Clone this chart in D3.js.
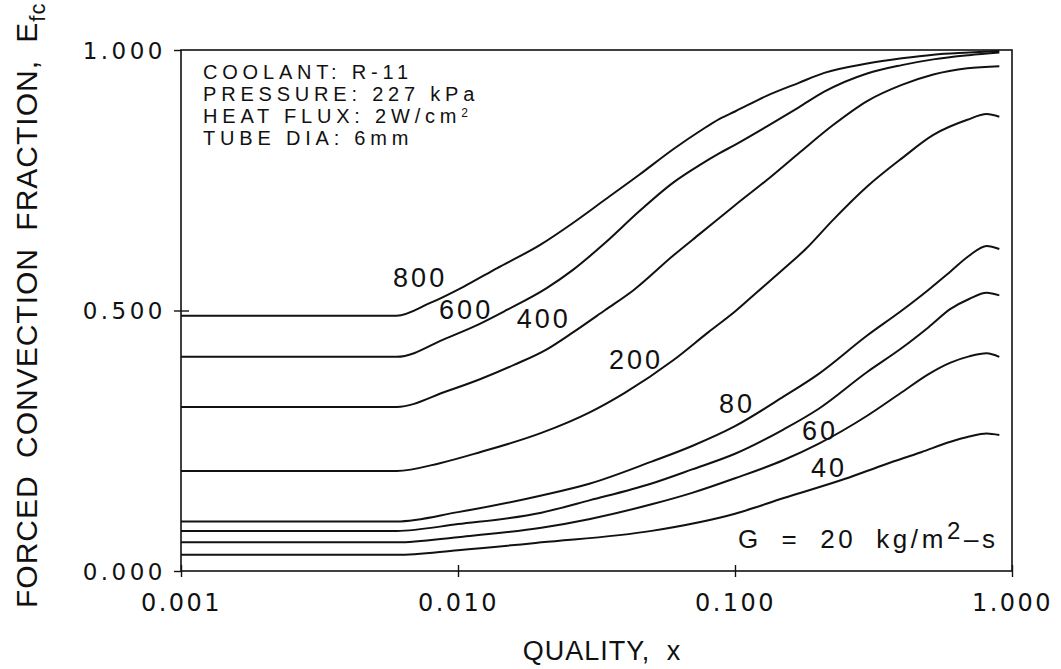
<!DOCTYPE html>
<html>
<head>
<meta charset="utf-8">
<script src="https://cdn.jsdelivr.net/npm/d3@7"></script>
<style>
  html, body { margin: 0; padding: 0; background: #fff; }
  svg { display: block; }
</style>
</head>
<body>
<svg id="chart" width="1061" height="669"></svg>
<script>
// ---- data (quality x, forced convection fraction E_fc) ----
const g800 = [[0.001,0.490],[0.006,0.490],[0.0079,0.514],[0.0105,0.546],[0.0138,0.581],[0.0198,0.626],[0.026,0.668],[0.034,0.713],[0.045,0.760],[0.06,0.810],[0.075,0.845],[0.088,0.868],[0.1,0.882],[0.13,0.912],[0.17,0.937],[0.21,0.956],[0.3,0.974],[0.4,0.984],[0.52,0.991],[0.7,0.995],[0.9,0.998]];
const g600 = [[0.001,0.411],[0.006,0.411],[0.0091,0.447],[0.0114,0.469],[0.015,0.501],[0.0209,0.543],[0.026,0.578],[0.034,0.630],[0.045,0.690],[0.06,0.746],[0.075,0.780],[0.088,0.802],[0.1,0.818],[0.13,0.853],[0.17,0.890],[0.21,0.920],[0.3,0.955],[0.4,0.971],[0.52,0.982],[0.7,0.990],[0.9,0.995]];
const g400 = [[0.001,0.315],[0.006,0.315],[0.0091,0.345],[0.012,0.368],[0.016,0.396],[0.021,0.426],[0.026,0.458],[0.034,0.501],[0.043,0.539],[0.06,0.606],[0.075,0.648],[0.088,0.678],[0.1,0.702],[0.13,0.750],[0.17,0.802],[0.226,0.856],[0.3,0.902],[0.4,0.933],[0.52,0.953],[0.69,0.965],[0.9,0.969]];
const g200 = [[0.001,0.192],[0.006,0.192],[0.0086,0.207],[0.012,0.228],[0.02,0.265],[0.03,0.305],[0.04,0.342],[0.06,0.405],[0.08,0.458],[0.1,0.498],[0.12,0.535],[0.15,0.580],[0.18,0.618],[0.226,0.674],[0.3,0.738],[0.4,0.792],[0.52,0.837],[0.69,0.866],[0.81,0.877],[0.9,0.872]];
const g80  = [[0.001,0.095],[0.006,0.095],[0.01,0.113],[0.02,0.145],[0.03,0.168],[0.05,0.210],[0.07,0.240],[0.1,0.278],[0.15,0.335],[0.2,0.378],[0.3,0.452],[0.4,0.500],[0.5,0.540],[0.6,0.575],[0.7,0.605],[0.81,0.624],[0.9,0.618]];
const g60  = [[0.001,0.077],[0.006,0.077],[0.01,0.090],[0.02,0.112],[0.03,0.136],[0.05,0.168],[0.07,0.195],[0.1,0.225],[0.15,0.272],[0.2,0.311],[0.3,0.382],[0.4,0.428],[0.5,0.468],[0.6,0.503],[0.7,0.522],[0.81,0.534],[0.9,0.529]];
const g40  = [[0.001,0.055],[0.006,0.055],[0.01,0.065],[0.02,0.083],[0.03,0.100],[0.05,0.128],[0.07,0.150],[0.1,0.178],[0.15,0.213],[0.2,0.244],[0.3,0.298],[0.4,0.343],[0.5,0.378],[0.6,0.400],[0.7,0.412],[0.81,0.418],[0.9,0.411]];
const g20  = [[0.001,0.031],[0.006,0.031],[0.01,0.040],[0.02,0.055],[0.05,0.077],[0.1,0.110],[0.15,0.140],[0.25,0.177],[0.35,0.205],[0.47,0.228],[0.6,0.248],[0.7,0.258],[0.81,0.264],[0.9,0.261]];

const seriesNames = ["800","600","400","200","80","60","40","20"];
const seriesData  = [g800, g600, g400, g200, g80, g60, g40, g20];

// curve labels anchored in data coordinates (x, E_fc)
const labelNames = ["800","600","400","200","80","60","40"];
const labelX     = [0.0073, 0.0107, 0.0204, 0.0439, 0.1017, 0.2027, 0.2183];
const labelE     = [0.545, 0.484, 0.466, 0.388, 0.303, 0.251, 0.180];

const xTicks = [0.001, 0.01, 0.1, 1];
const yTicks = [0, 0.5, 1];
const xTickLabels = ["0.001","0.010","0.100","1.000"];
const yTickLabels = ["0.000","0.500","1.000"];

const infoLines = ["COOLANT: R-11", "PRESSURE: 227 kPa", "HEAT FLUX: 2W/cm", "TUBE DIA: 6mm"];

// ---- layout ----
const svg = d3.select("#chart");
const pL = 181, pR = 1012, pT = 50, pB = 571;
const x = d3.scaleLog().domain([0.001, 1]).range([pL, pR]);
const y = d3.scaleLinear().domain([0, 1]).range([pB, pT]);

const INK = "#111";

// frame
svg.append("rect")
  .attr("x", pL).attr("y", pT)
  .attr("width", pR - pL).attr("height", pB - pT)
  .attr("fill", "none").attr("stroke", INK).attr("stroke-width", 1.6);

// x axis
const xAxis = d3.axisBottom(x).tickValues(xTicks).tickFormat((d, i) => xTickLabels[i]).tickSize(6).tickPadding(18);
const gx = svg.append("g").attr("transform", `translate(0,${pB})`).call(xAxis);
gx.select(".domain").remove();
gx.selectAll(".tick line").attr("y1", -6).attr("y2", 6).attr("stroke", INK).attr("stroke-width", 1.4);
gx.selectAll(".tick text")
  .attr("font-family", "DejaVu Sans, sans-serif").attr("font-size", 24)
  .attr("letter-spacing", 2.5).attr("fill", INK).attr("dy", "0.35em")
  .attr("y", 32);

// y axis
const yAxis = d3.axisLeft(y).tickValues(yTicks).tickFormat((d, i) => yTickLabels[i]).tickSize(7).tickPadding(10);
const gy = svg.append("g").attr("transform", `translate(${pL},0)`).call(yAxis);
gy.select(".domain").remove();
gy.selectAll(".tick line").attr("x1", -7).attr("x2", d => d === 0.5 ? 8 : 0).attr("stroke", INK).attr("stroke-width", 1.4);
gy.selectAll(".tick text")
  .attr("font-family", "DejaVu Sans, sans-serif").attr("font-size", 23)
  .attr("letter-spacing", 3.5).attr("fill", INK)
  .attr("x", -15).attr("dy", "0.36em");

// curves
const line = d3.line()
  .x(d => x(d[0]))
  .y(d => y(d[1]))
  .curve(d3.curveMonotoneX);

svg.append("g").selectAll("path")
  .data(seriesData)
  .join("path")
  .attr("d", line)
  .attr("fill", "none")
  .attr("stroke", INK)
  .attr("stroke-width", 2)
  .attr("stroke-linejoin", "round");

// curve labels
svg.append("g").selectAll("text")
  .data(labelNames)
  .join("text")
  .attr("x", (d, i) => x(labelX[i]))
  .attr("y", (d, i) => y(labelE[i]))
  .attr("text-anchor", "middle")
  .attr("font-family", "Liberation Sans, Arial, sans-serif")
  .attr("font-size", 27)
  .attr("letter-spacing", 3)
  .attr("fill", INK)
  .text(d => d);

// info box text
const info = svg.append("g").attr("font-family", "Liberation Sans, Arial, sans-serif")
  .attr("font-size", 20).attr("letter-spacing", 4.8).attr("fill", INK);
infoLines.forEach((t, i) => {
  const tx = info.append("text").attr("x", pL + 22).attr("y", pT + 29 + i * 22).text(t);
  if (i === 2) {
    tx.append("tspan").attr("dy", -6).attr("font-size", 12).attr("letter-spacing", 0).text("2");
  }
});

// G annotation
const gl = svg.append("text")
  .attr("x", x(0.1025)).attr("y", y(0.044))
  .attr("font-family", "Liberation Sans, Arial, sans-serif")
  .attr("font-size", 26).attr("letter-spacing", 3.6).attr("word-spacing", 9)
  .attr("fill", INK);
gl.append("tspan").text("G = 20 kg/m");
gl.append("tspan").attr("dy", -9).attr("font-size", 24).text("2");
gl.append("tspan").attr("dy", 9).text("–s");

// axis titles
svg.append("text")
  .attr("x", 602).attr("y", 660)
  .attr("text-anchor", "middle")
  .attr("font-family", "Liberation Sans, Arial, sans-serif")
  .attr("font-size", 27).attr("letter-spacing", 1).attr("word-spacing", 8)
  .attr("fill", INK)
  .text("QUALITY,  x");

const yt = svg.append("text")
  .attr("transform", "translate(37,608) rotate(-90)")
  .attr("font-family", "Liberation Sans, Arial, sans-serif")
  .attr("font-size", 30).attr("letter-spacing", 1).attr("word-spacing", 8)
  .attr("fill", INK);
yt.append("tspan").text("FORCED CONVECTION FRACTION, E");
yt.append("tspan").attr("dy", 8).attr("font-size", 22).text("fc");
</script>
</body>
</html>
